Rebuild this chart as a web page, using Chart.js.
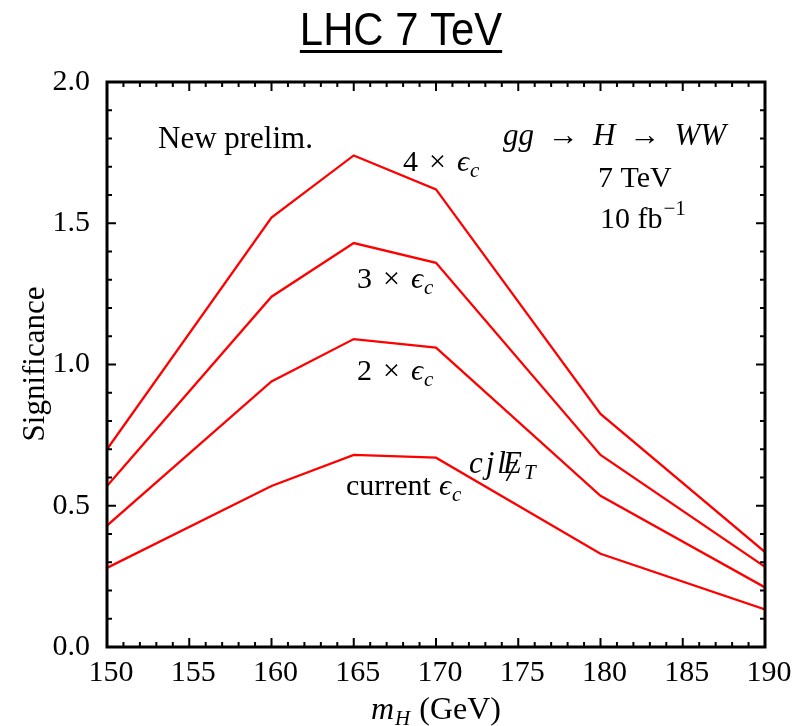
<!DOCTYPE html>
<html>
<head>
<meta charset="utf-8">
<script src="https://cdn.jsdelivr.net/npm/chart.js@4"></script>
<style>
  body { margin: 0; background: #fff; }
  #wrap { width: 805px; height: 726px; }
</style>
</head>
<body>
<div id="wrap"><canvas id="myChart" width="805" height="726"></canvas></div>
<script>
// Higgs mass points (GeV)
var masses = [150, 160, 165, 170, 180, 190];
// significance for each efficiency scenario
var sig4x = [0.70, 1.52, 1.74, 1.62, 0.825, 0.336];
var sig3x = [0.57, 1.24, 1.43, 1.36, 0.68, 0.284];
var sig2x = [0.43, 0.94, 1.09, 1.06, 0.535, 0.211];
var sigCurrent = [0.28, 0.57, 0.68, 0.67, 0.33, 0.133];
var seriesNames = ['4 x eps_c', '3 x eps_c', '2 x eps_c', 'current eps_c'];
var xTickValues = [150, 155, 160, 165, 170, 175, 180, 185, 190];
var yTickValues = [0.0, 0.5, 1.0, 1.5, 2.0];

var SERIF = '"Liberation Serif", "Times New Roman", serif';

function pts(ys) {
    return masses.map(function (m, i) { return { x: m, y: ys[i] }; });
}

// draws a row of text pieces: [text, italic, size, gapBefore, dy]
// returns the x where each piece started
function drawMath(ctx, x, y, parts, align) {
    var total = 0;
    parts.forEach(function (p) {
        ctx.font = (p[1] ? 'italic ' : '') + p[2] + 'px ' + SERIF;
        total += p[3] + ctx.measureText(p[0]).width;
    });
    var cx = align === 'center' ? x - total / 2 : x;
    var starts = [];
    parts.forEach(function (p) {
        ctx.font = (p[1] ? 'italic ' : '') + p[2] + 'px ' + SERIF;
        cx += p[3];
        starts.push(cx);
        ctx.fillText(p[0], cx, y + (p[4] || 0));
        cx += ctx.measureText(p[0]).width;
    });
    return starts;
}

var framePlugin = {
    id: 'frame',
    afterDraw: function (chart) {
        var ctx = chart.ctx;
        var a = chart.chartArea;
        var xs = chart.scales.x, ys = chart.scales.y;
        ctx.save();
        ctx.strokeStyle = '#000';
        ctx.fillStyle = '#000';

        // minor / major ticks, pointing inward on all sides
        ctx.lineWidth = 2;
        ctx.beginPath();
        for (var v = 150; v <= 190; v++) {
            var px = xs.getPixelForValue(v);
            var len = (v % 5 === 0) ? 9 : 5;
            ctx.moveTo(px, a.bottom); ctx.lineTo(px, a.bottom - len);
            ctx.moveTo(px, a.top); ctx.lineTo(px, a.top + len);
        }
        for (var k = 0; k <= 20; k++) {
            var py = ys.getPixelForValue(k / 10);
            var l2 = (k % 5 === 0) ? 9 : 5;
            ctx.moveTo(a.left, py); ctx.lineTo(a.left + l2, py);
            ctx.moveTo(a.right, py); ctx.lineTo(a.right - l2, py);
        }
        ctx.stroke();

        ctx.lineWidth = 3;
        ctx.strokeRect(a.left, a.top, a.right - a.left, a.bottom - a.top);

        // title (condensed sans)
        ctx.textBaseline = 'alphabetic';
        ctx.textAlign = 'center';
        ctx.save();
        ctx.translate(401, 45);
        ctx.scale(0.89, 1);
        ctx.font = '47px "Liberation Sans Narrow", "Liberation Sans", sans-serif';
        ctx.fillText('LHC 7 TeV', 0, 0);
        var tw = ctx.measureText('LHC 7 TeV').width;
        ctx.restore();
        tw = tw * 0.89;
        ctx.fillRect(401 - tw / 2, 50, tw, 3);

        // axis titles
        ctx.textAlign = 'left';
        drawMath(ctx, 436, 719, [['m', 1, 32, 0, 0], ['H', 1, 21, 1, 6], ['(GeV)', 0, 32, 9, 0]], 'center');
        ctx.save();
        ctx.translate(44, 364);
        ctx.rotate(-Math.PI / 2);
        ctx.textAlign = 'center';
        ctx.font = '31px ' + SERIF;
        ctx.fillText('Significance', 0, 0);
        ctx.restore();

        // annotations
        ctx.textAlign = 'left';
        ctx.font = '31px ' + SERIF;
        ctx.fillText('New prelim.', 158, 148);
        drawMath(ctx, 403, 171, [['4', 0, 30, 0, 0], ['\u00d7', 0, 30, 11, 0], ['\u03f5', 1, 30, 11, 0], ['c', 1, 21, 1, 6]]);
        drawMath(ctx, 357, 288, [['3', 0, 30, 0, 0], ['\u00d7', 0, 30, 11, 0], ['\u03f5', 1, 30, 11, 0], ['c', 1, 21, 1, 6]]);
        drawMath(ctx, 357, 380, [['2', 0, 30, 0, 0], ['\u00d7', 0, 30, 11, 0], ['\u03f5', 1, 30, 11, 0], ['c', 1, 21, 1, 6]]);
        drawMath(ctx, 346, 495, [['current', 0, 30, 0, 0], ['\u03f5', 1, 30, 8, 0], ['c', 1, 21, 1, 6]]);
        var st = drawMath(ctx, 469, 473, [['c', 1, 31, 0, 0], ['j', 1, 31, 3, 0], ['l', 1, 31, 3, 0], ['E', 1, 31, -3, 0], ['T', 1, 21, 2, 6]]);
        ctx.font = 'italic 32px ' + SERIF;
        ctx.fillText('/', st[3] + 4, 481);
        drawMath(ctx, 503, 145, [['gg', 1, 31, 0, 0], ['\u2192', 0, 31, 14, 0], ['H', 1, 31, 14, 0], ['\u2192', 0, 31, 14, 0], ['WW', 1, 31, 14, 0]]);
        ctx.font = '30px ' + SERIF;
        ctx.fillText('7 TeV', 598, 187);
        drawMath(ctx, 600, 228, [['10 fb', 0, 30, 0, 0], ['\u22121', 0, 21, 1, -13]]);
        ctx.restore();
    }
};

var ctx = document.getElementById('myChart').getContext('2d');
var myChart = new Chart(ctx, {
    type: 'line',
    data: {
        datasets: [sig4x, sig3x, sig2x, sigCurrent].map(function (s, i) {
            return {
                label: seriesNames[i],
                data: pts(s),
                borderColor: '#ff0000',
                borderWidth: 2.3,
                pointRadius: 0,
                tension: 0,
                fill: false
            };
        })
    },
    options: {
        responsive: false,
        animation: false,
        devicePixelRatio: 1,
        layout: { padding: { top: 82, right: 40, left: 0, bottom: 0 } },
        plugins: {
            legend: { display: false },
            title: { display: false },
            tooltip: { enabled: false }
        },
        scales: {
            x: {
                type: 'linear',
                min: 150,
                max: 190,
                afterBuildTicks: function (scale) {
                    scale.ticks = xTickValues.map(function (v) { return { value: v }; });
                },
                afterFit: function (scale) { scale.height = 79; },
                grid: { display: false, drawTicks: false, tickLength: 0 },
                border: { display: false },
                ticks: {
                    color: '#000',
                    padding: 8,
                    labelOffset: 4,
                    maxRotation: 0,
                    autoSkip: false,
                    font: { family: SERIF, size: 30 }
                }
            },
            y: {
                min: 0,
                max: 2,
                afterBuildTicks: function (scale) {
                    scale.ticks = yTickValues.map(function (v) { return { value: v }; });
                },
                afterFit: function (scale) { scale.width = 107; },
                grid: { display: false, drawTicks: false, tickLength: 0 },
                border: { display: false },
                ticks: {
                    color: '#000',
                    padding: 17,
                    autoSkip: false,
                    font: { family: SERIF, size: 30 },
                    callback: function (v) { return Number(v).toFixed(1); }
                }
            }
        }
    },
    plugins: [framePlugin]
});
</script>
</body>
</html>
